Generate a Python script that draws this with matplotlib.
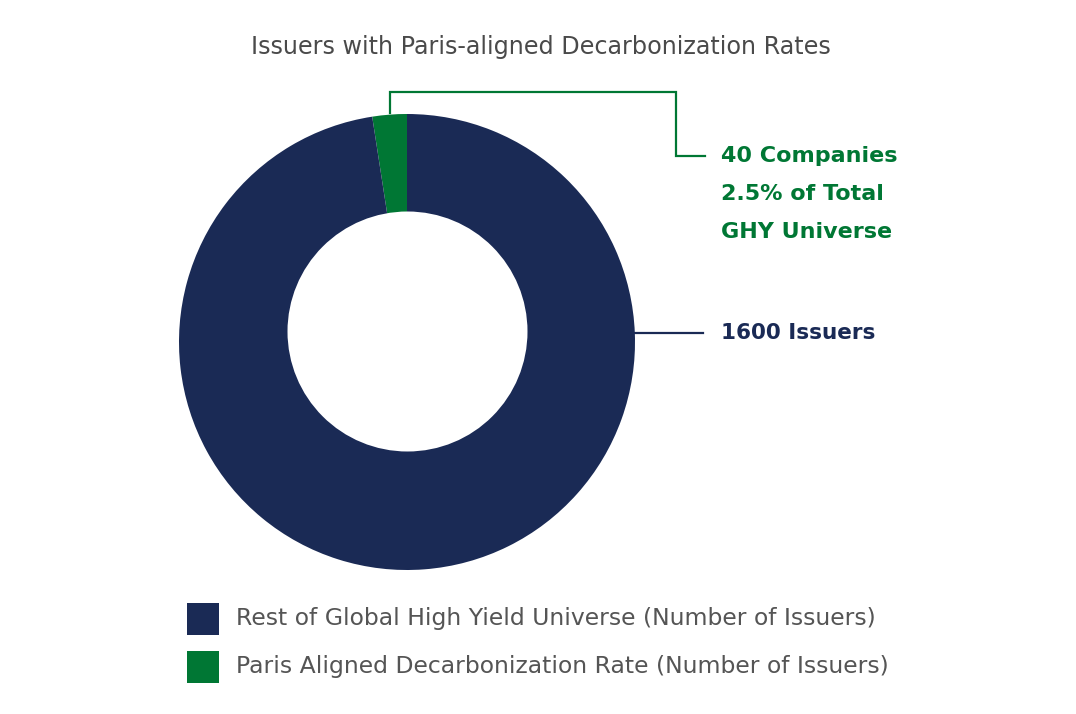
import matplotlib.pyplot as plt
from matplotlib.patches import Rectangle, Circle

# data
labels = ['Rest of Global High Yield Universe (Number of Issuers)',
          'Paris Aligned Decarbonization Rate (Number of Issuers)']
rest_issuers = 1600
paris_issuers = 40
share_label = '2.5% of Total'
colors = ['#1a2a55', '#007734']

plt.rcParams['font.family'] = ['DejaVu Sans']

W, H = 1076, 714
fig = plt.figure(figsize=(W / 100, H / 100), dpi=100)
ax = fig.add_axes([0, 0, 1, 1])

# pie (green slice first, counterclockwise from 12 o'clock), hole drawn on top
cx, cy, r = 407, H - 342, 228
ax.pie([paris_issuers, rest_issuers], colors=[colors[1], colors[0]],
       startangle=90, counterclock=True, center=(cx, cy), radius=r,
       wedgeprops=dict(linewidth=0), frame=True)
ax.add_patch(Circle((407.5, H - 331.5), 120, color='white', lw=0, zorder=5))
ax.set_xlim(0, W)
ax.set_ylim(0, H)
ax.set_aspect('equal')
ax.axis('off')

# title
ax.text(541, H - 47, 'Issuers with Paris-aligned Decarbonization Rates',
        ha='center', va='center', fontsize=17.2, color='#4a4a4a')

# leader lines
ax.plot([390, 390, 676, 676, 705], [H - 113, H - 92, H - 92, H - 156, H - 156],
        color=colors[1], lw=1.6, solid_joinstyle='miter')
ax.plot([635, 703], [H - 333, H - 333], color=colors[0], lw=1.6)

# annotations
green_lines = ['{} Companies'.format(paris_issuers), share_label, 'GHY Universe']
for i, t in enumerate(green_lines):
    ax.text(721, H - 156 - 38 * i, t, ha='left', va='center', fontsize=16,
            fontweight='bold', color=colors[1])
ax.text(721, H - 333, '{} Issuers'.format(rest_issuers), ha='left', va='center',
        fontsize=15.5, fontweight='bold', color=colors[0])

# legend
for i, (lab, col) in enumerate(zip(labels, colors)):
    y = H - 619 - 48 * i
    ax.add_patch(Rectangle((187, y - 16), 32, 32, color=col, lw=0))
    ax.text(236, y, lab, ha='left', va='center', fontsize=16.9, color='#555555')

fig.savefig('out.png', dpi=100)
